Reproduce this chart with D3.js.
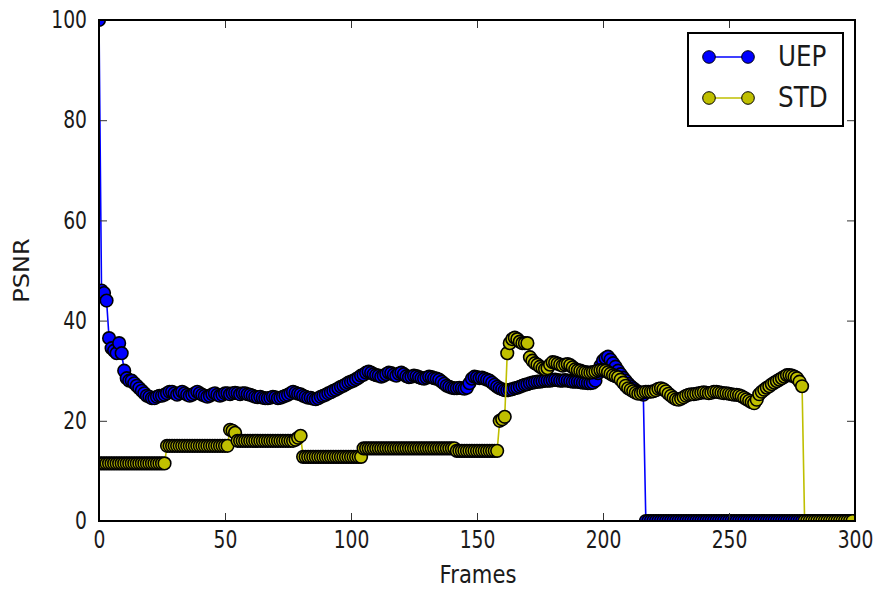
<!DOCTYPE html>
<html>
<head>
<meta charset="utf-8">
<script src="https://cdn.jsdelivr.net/npm/d3@7"></script>
<style>
  html, body { margin: 0; padding: 0; background: #fff; }
  svg text { font-family: "DejaVu Sans", sans-serif; fill: #1a1a1a; }
</style>
</head>
<body>
<svg id="chart" width="880" height="591"></svg>
<script>
// PSNR per frame for the two transmission schemes
const seriesNames = ["UEP", "STD"];
const seriesColors = ["#0000ff", "#bfbf00"];

const uep = [
  100, 46, 45.5, 44, 36.5, 34.5, 34, 33.5, 35.5, 33.5,
  30, 28.5, 28, 28, 27.5, 27, 26.5, 26, 25.5, 25,
  24.8, 24.5, 24.5, 24.8, 25, 25, 25.2, 25.5, 25.8, 25.8,
  25.5, 25.2, 25.5, 25.8, 25.5, 25.2, 25, 25.2, 25.5, 25.8,
  25.5, 25.2, 25, 24.8, 25, 25.3, 25.5, 25.2, 25, 25.2,
  25.5, 25.5, 25.3, 25.5, 25.6, 25.5, 25.3, 25.5, 25.5, 25.3,
  25.2, 25, 24.8, 24.7, 24.8, 24.6, 24.5, 24.5, 24.6, 24.8,
  24.7, 24.5, 24.6, 24.8, 25, 25.2, 25.5, 25.8, 25.6, 25.4,
  25.3, 25, 24.8, 24.6, 24.6, 24.4, 24.3, 24.5, 24.8, 25,
  25.2, 25.5, 25.7, 26, 26.2, 26.5, 26.8, 27, 27.3, 27.6,
  27.8, 28, 28.3, 28.6, 29, 29.2, 29.6, 29.8, 29.6, 29.3,
  29.1, 29, 28.8, 29, 29.3, 29.6, 29.5, 29.2, 29, 29.4,
  29.6, 29.3, 28.9, 28.7, 28.8, 29, 28.9, 28.7, 28.5, 28.4,
  28.6, 28.8, 28.7, 28.5, 28.4, 28.2, 27.8, 27.4, 27, 26.8,
  26.6, 26.5, 26.5, 26.6, 26.5, 26.4, 26.6, 27.5, 28.4, 28.8,
  28.7, 28.5, 28.6, 28.4, 28.2, 28, 27.6, 27.2, 26.8, 26.5,
  26.3, 26.1, 26.1, 26.2, 26.3, 26.5, 26.6, 26.8, 27, 27.2,
  27.3, 27.5, 27.6, 27.7, 27.8, 27.8, 27.9, 28, 28, 28,
  28.1, 28.2, 28.1, 28, 28, 28.1, 28, 27.9, 27.8, 27.8,
  27.8, 27.7, 27.6, 27.6, 27.5, 27.5, 27.6, 28, 29.5, 31,
  32, 32.5, 32.8, 32.2, 31.5, 30.8, 30, 29.3, 28.6, 28,
  27.4, 26.9, 26.5, 26.1, 25.8, 25.5, 25.2, 0, 0, 0,
  0, 0, 0, 0, 0, 0, 0, 0, 0, 0,
  0, 0, 0, 0, 0, 0, 0, 0, 0, 0,
  0, 0, 0, 0, 0, 0, 0, 0, 0, 0,
  0, 0, 0, 0, 0, 0, 0, 0, 0, 0,
  0, 0, 0, 0, 0, 0, 0, 0, 0, 0,
  0, 0, 0, 0, 0, 0, 0, 0, 0, 0,
  0, 0, 0, 0, 0, 0, 0, 0, 0, 0,
  0, 0, 0, 0, 0, 0, 0, 0, 0, 0
];

const std = [
  11.5, 11.5, 11.5, 11.5, 11.5, 11.5, 11.5, 11.5, 11.5, 11.5,
  11.5, 11.5, 11.5, 11.5, 11.5, 11.5, 11.5, 11.5, 11.5, 11.5,
  11.5, 11.5, 11.5, 11.5, 11.5, 11.5, 11.5, 15, 15, 15,
  15, 15, 15, 15, 15, 15, 15, 15, 15, 15,
  15, 15, 15, 15, 15, 15, 15, 15, 15, 15,
  15, 15, 18.2, 18, 17.6, 16, 16, 16, 16, 16,
  16, 16, 16, 16, 16, 16, 16, 16, 16, 16,
  16, 16, 16, 16, 16, 16, 16, 16, 16.2, 16.6,
  17, 12.8, 12.8, 12.8, 12.8, 12.8, 12.8, 12.8, 12.8, 12.8,
  12.8, 12.8, 12.8, 12.8, 12.8, 12.8, 12.8, 12.8, 12.8, 12.8,
  12.8, 12.8, 12.8, 12.8, 12.8, 14.5, 14.5, 14.5, 14.5, 14.5,
  14.5, 14.5, 14.5, 14.5, 14.5, 14.5, 14.5, 14.5, 14.5, 14.5,
  14.5, 14.5, 14.5, 14.5, 14.5, 14.5, 14.5, 14.5, 14.5, 14.5,
  14.5, 14.5, 14.5, 14.5, 14.5, 14.5, 14.5, 14.5, 14.5, 14.5,
  14.5, 14.5, 14, 14, 14, 14, 14, 14, 14, 14,
  14, 14, 14, 14, 14, 14, 14, 14, 14, 20,
  20.3, 20.8, 33.5, 35.5, 36.3, 36.6, 36.3, 35.8, 35.5, 35.5,
  35.5, 32.7, 32, 31.5, 31.2, 30.8, 30.5, 30.3, 30.5, 31.2,
  31.7, 31.6, 31.4, 31.2, 31, 31.2, 31.3, 31.1, 30.7, 30.3,
  30.1, 30, 29.8, 29.7, 29.6, 29.6, 29.7, 29.8, 30, 30.1,
  30.1, 30, 29.7, 29.4, 29.1, 28.9, 28.7, 28.2, 27.6, 27,
  26.5, 26.2, 25.9, 25.6, 25.4, 25.5, 25.7, 25.8, 25.8, 25.8,
  25.9, 26.1, 26.4, 26.5, 26.3, 25.9, 25.4, 25, 24.6, 24.3,
  24.2, 24.4, 24.7, 25, 25.2, 25.3, 25.3, 25.4, 25.5, 25.6,
  25.7, 25.6, 25.5, 25.6, 25.8, 25.8, 25.7, 25.6, 25.5, 25.5,
  25.4, 25.3, 25.2, 25.2, 25.1, 24.9, 24.6, 24.3, 24, 23.7,
  23.5, 24.2, 25.3, 25.8, 26.2, 26.6, 26.9, 27.3, 27.6, 27.9,
  28.2, 28.5, 28.8, 29.1, 29.1, 29, 28.8, 28.5, 27.8, 26.9,
  0, 0, 0, 0, 0, 0, 0, 0, 0, 0,
  0, 0, 0, 0, 0, 0, 0, 0, 0, 0
];

const xTicks = [0, 50, 100, 150, 200, 250, 300];
const yTicks = [0, 20, 40, 60, 80, 100];
const xLabel = "Frames";
const yLabel = "PSNR";

const svg = d3.select("#chart");
const plot = { left: 99, right: 855, top: 20, bottom: 521 };

const x = d3.scaleLinear().domain([0, 300]).range([plot.left, plot.right]);
const y = d3.scaleLinear().domain([0, 100]).range([plot.bottom, plot.top]);

svg.append("defs").append("clipPath").attr("id", "plot-clip")
  .append("rect")
  .attr("x", plot.left).attr("y", plot.top)
  .attr("width", plot.right - plot.left).attr("height", plot.bottom - plot.top);

const data = [uep, std];
const line = d3.line().x((d, i) => x(i)).y(d => y(d));

const layer = svg.append("g").attr("clip-path", "url(#plot-clip)");
data.forEach((vals, k) => {
  const g = layer.append("g");
  g.append("path")
    .datum(vals)
    .attr("fill", "none")
    .attr("stroke", seriesColors[k])
    .attr("stroke-width", 1.6)
    .attr("d", line);
  g.selectAll("circle")
    .data(vals)
    .join("circle")
    .attr("cx", (d, i) => x(i))
    .attr("cy", d => y(d))
    .attr("r", 6.3)
    .attr("fill", seriesColors[k])
    .attr("stroke", "#000")
    .attr("stroke-width", 1.6);
});

// narrow glyph rendering: squeeze text horizontally around its own anchor
const tickFont = 24, tickSqueeze = 0.78;

// ticks point inward on all four sides
const tickLen = 8;
const axisBottom = d3.axisBottom(x).tickValues(xTicks).tickSizeInner(-tickLen).tickSizeOuter(0).tickPadding(10);
const axisTop = d3.axisTop(x).tickValues(xTicks).tickSizeInner(-tickLen).tickSizeOuter(0).tickFormat("");
const axisLeft = d3.axisLeft(y).tickValues(yTicks).tickSizeInner(-tickLen).tickSizeOuter(0).tickPadding(12);
const axisRight = d3.axisRight(y).tickValues(yTicks).tickSizeInner(-tickLen).tickSizeOuter(0).tickFormat("");

function styleAxis(g) {
  g.select(".domain").remove();
  g.selectAll(".tick line").attr("stroke", "#333").attr("stroke-width", 1);
  g.selectAll(".tick text")
    .attr("font-size", tickFont)
    .attr("x", function () { return (+d3.select(this).attr("x") || 0) / tickSqueeze; })
    .attr("transform", `scale(${tickSqueeze},1)`);
}

svg.append("g").attr("transform", `translate(0,${plot.bottom})`).call(axisBottom).call(styleAxis);
svg.append("g").attr("transform", `translate(0,${plot.top})`).call(axisTop).call(styleAxis);
svg.append("g").attr("transform", `translate(${plot.left},0)`).call(axisLeft).call(styleAxis);
svg.append("g").attr("transform", `translate(${plot.right},0)`).call(axisRight).call(styleAxis);

// frame
svg.append("rect")
  .attr("x", plot.left).attr("y", plot.top)
  .attr("width", plot.right - plot.left).attr("height", plot.bottom - plot.top)
  .attr("fill", "none").attr("stroke", "#000").attr("stroke-width", 2);

svg.append("g")
  .attr("transform", `translate(${(plot.left + plot.right) / 2 + 1},583) scale(0.88,1)`)
  .append("text")
  .attr("text-anchor", "middle").attr("font-size", 24)
  .text(xLabel);

svg.append("g")
  .attr("transform", `translate(29,${(plot.top + plot.bottom) / 2}) rotate(-90) scale(1,0.85)`)
  .append("text")
  .attr("text-anchor", "middle").attr("font-size", 24)
  .text(yLabel);

// legend
const legend = svg.append("g");
legend.append("rect")
  .attr("x", 688).attr("y", 33).attr("width", 155).attr("height", 93)
  .attr("fill", "#fff").attr("stroke", "#000").attr("stroke-width", 2);
seriesNames.forEach((name, k) => {
  const ly = 57 + k * 41;
  legend.append("line")
    .attr("x1", 709).attr("x2", 748).attr("y1", ly).attr("y2", ly)
    .attr("stroke", seriesColors[k]).attr("stroke-width", 1.6);
  [709, 748].forEach(cx => legend.append("circle")
    .attr("cx", cx).attr("cy", ly).attr("r", 6.3)
    .attr("fill", seriesColors[k]).attr("stroke", "#000").attr("stroke-width", 1));
  legend.append("g")
    .attr("transform", `translate(778,${ly + 9}) scale(0.88,1)`)
    .append("text")
    .attr("font-size", 28)
    .text(name);
});
</script>
</body>
</html>
